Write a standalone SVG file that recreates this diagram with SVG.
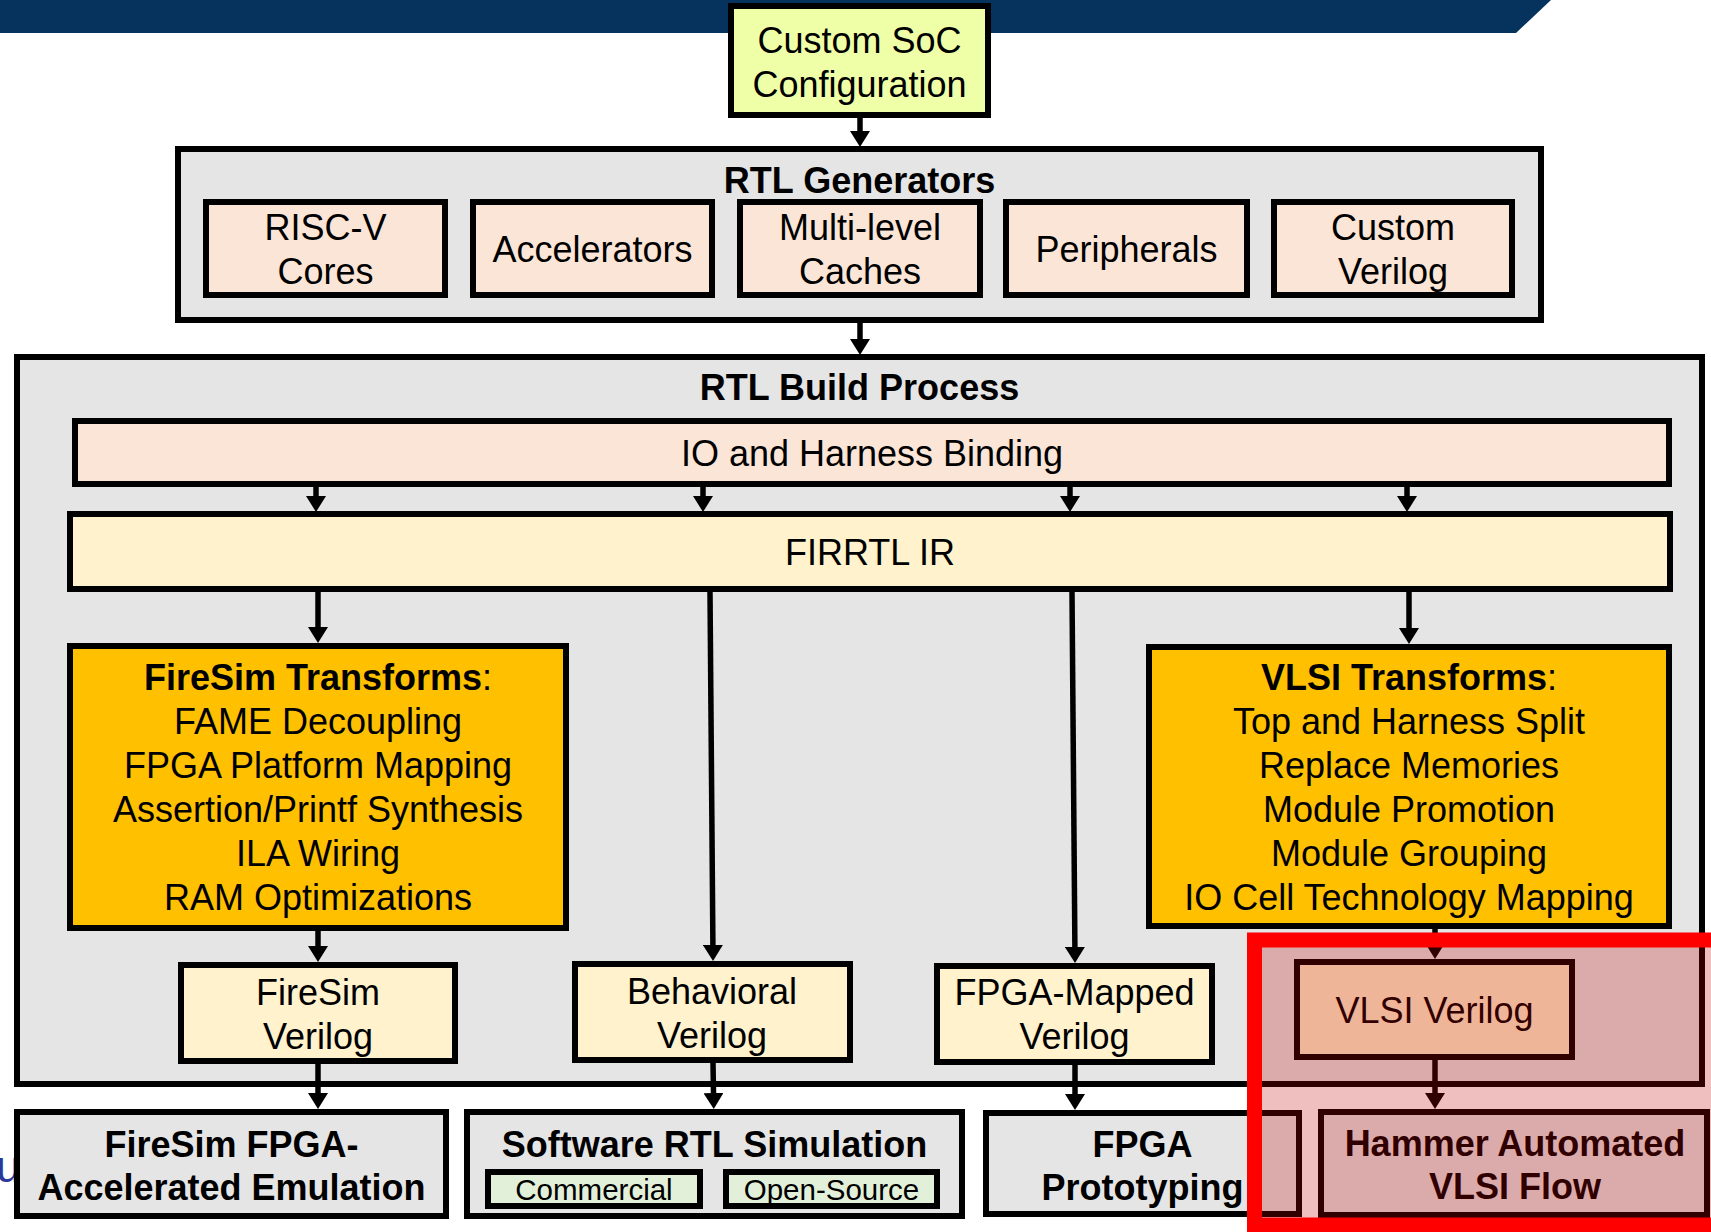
<svg xmlns="http://www.w3.org/2000/svg" width="1711" height="1232" viewBox="0 0 1711 1232">
<defs>
<style>
text{font-family:"Liberation Sans",Arial,sans-serif;font-size:36px;fill:#000;text-anchor:middle}
.b{font-weight:bold}
.s{font-size:29.5px}
.box{stroke:#000;stroke-width:6}
.grey{fill:#E5E5E5}
.peach{fill:#FBE5D6}
.cream{fill:#FFF2CC}
.gold{fill:#FFC000}
.green{fill:#E2F0D9}
.lime{fill:#EFFFA7}
.conn line{stroke:#000;stroke-width:5.5;marker-end:url(#ah)}
</style>
<marker id="ah" viewBox="0 0 16 20" refX="0" refY="10" markerWidth="16" markerHeight="20" markerUnits="userSpaceOnUse" orient="auto">
<path d="M0,0 L16,10 L0,20 z" fill="#000"/>
</marker>
</defs>
<rect width="1711" height="1232" fill="#fff"/>
<polygon points="0,0 1551,0 1516,33 0,33" fill="#06325E"/>
<text x="-4" y="1182" style="font-size:44px;fill:#2B3A99;text-anchor:start">u</text>

<g id="custom-soc">
<rect class="box lime" x="731" y="6" width="257" height="109"/>
<text x="859.5" y="53">Custom SoC</text>
<text x="859.5" y="97">Configuration</text>
</g>

<g id="rtl-generators">
<rect class="box grey" x="178" y="149" width="1363" height="171"/>
<text class="b" x="859.5" y="193">RTL Generators</text>
</g>
<g id="risc-v">
<rect class="box peach" x="206" y="202" width="239" height="93"/>
<text x="325.5" y="240">RISC-V</text>
<text x="325.5" y="284">Cores</text>
</g>
<g id="accelerators">
<rect class="box peach" x="473" y="202" width="239" height="93"/>
<text x="592.5" y="262">Accelerators</text>
</g>
<g id="caches">
<rect class="box peach" x="740" y="202" width="240" height="93"/>
<text x="860" y="240">Multi-level</text>
<text x="860" y="284">Caches</text>
</g>
<g id="peripherals">
<rect class="box peach" x="1006" y="202" width="241" height="93"/>
<text x="1126.5" y="262">Peripherals</text>
</g>
<g id="custom-verilog">
<rect class="box peach" x="1274" y="202" width="238" height="93"/>
<text x="1393" y="240">Custom</text>
<text x="1393" y="284">Verilog</text>
</g>

<g id="rtl-build">
<rect class="box grey" x="17" y="357" width="1685" height="727"/>
<text class="b" x="859.5" y="400">RTL Build Process</text>
</g>
<g id="io-harness">
<rect class="box peach" x="75" y="421" width="1594" height="63"/>
<text x="872" y="466">IO and Harness Binding</text>
</g>
<g id="firrtl">
<rect class="box cream" x="70" y="514" width="1600" height="75"/>
<text x="870" y="565">FIRRTL IR</text>
</g>
<g id="firesim-transforms">
<rect class="box gold" x="70" y="646" width="496" height="282"/>
<text x="318" y="690"><tspan class="b">FireSim Transforms</tspan>:</text>
<text x="318" y="734">FAME Decoupling</text>
<text x="318" y="778">FPGA Platform Mapping</text>
<text x="318" y="822">Assertion/Printf Synthesis</text>
<text x="318" y="866">ILA Wiring</text>
<text x="318" y="910">RAM Optimizations</text>
</g>
<g id="vlsi-transforms">
<rect class="box gold" x="1149" y="647" width="520" height="279"/>
<text x="1409" y="690"><tspan class="b">VLSI Transforms</tspan>:</text>
<text x="1409" y="734">Top and Harness Split</text>
<text x="1409" y="778">Replace Memories</text>
<text x="1409" y="822">Module Promotion</text>
<text x="1409" y="866">Module Grouping</text>
<text x="1409" y="910">IO Cell Technology Mapping</text>
</g>
<g id="firesim-verilog">
<rect class="box cream" x="181" y="965" width="274" height="96"/>
<text x="318" y="1005">FireSim</text>
<text x="318" y="1049">Verilog</text>
</g>
<g id="behavioral-verilog">
<rect class="box cream" x="575" y="964" width="275" height="96"/>
<text x="712" y="1004">Behavioral</text>
<text x="712" y="1048">Verilog</text>
</g>
<g id="fpga-mapped-verilog">
<rect class="box cream" x="937" y="966" width="275" height="96"/>
<text x="1074.5" y="1005">FPGA-Mapped</text>
<text x="1074.5" y="1049">Verilog</text>
</g>
<g id="vlsi-verilog">
<rect class="box cream" x="1297" y="962" width="275" height="95"/>
<text x="1434.5" y="1023">VLSI Verilog</text>
</g>

<g id="firesim-emulation">
<rect class="box grey" x="17" y="1112" width="429" height="104"/>
<text class="b" x="231.5" y="1157">FireSim FPGA-</text>
<text class="b" x="231.5" y="1200">Accelerated Emulation</text>
</g>
<g id="software-sim">
<rect class="box grey" x="467" y="1112" width="495" height="104"/>
<text class="b" x="714.5" y="1157">Software RTL Simulation</text>
</g>
<g id="commercial">
<rect class="box green" x="488" y="1172" width="212" height="34"/>
<text class="s" x="594" y="1200">Commercial</text>
</g>
<g id="open-source">
<rect class="box green" x="726" y="1172" width="211" height="34"/>
<text class="s" x="831.5" y="1200">Open-Source</text>
</g>
<g id="fpga-prototyping">
<rect class="box grey" x="986" y="1113" width="313" height="101"/>
<text class="b" x="1142.5" y="1157">FPGA</text>
<text class="b" x="1142.5" y="1200">Prototyping</text>
</g>
<g id="hammer">
<rect class="box grey" x="1321" y="1112" width="386" height="103"/>
<text class="b" x="1515" y="1156">Hammer Automated</text>
<text class="b" x="1515" y="1199">VLSI Flow</text>
</g>

<g id="connectors" class="conn">
<line x1="860" y1="118" x2="860" y2="131"/>
<line x1="860" y1="323" x2="860" y2="339"/>
<line x1="316" y1="487" x2="316" y2="496"/>
<line x1="703" y1="487" x2="703" y2="496"/>
<line x1="1070" y1="487" x2="1070" y2="496"/>
<line x1="1407" y1="487" x2="1407" y2="496"/>
<line x1="318" y1="592" x2="318" y2="627"/>
<line x1="710" y1="592" x2="712.9" y2="945"/>
<line x1="1072" y1="592" x2="1074.9" y2="947"/>
<line x1="1409" y1="592" x2="1409" y2="628"/>
<line x1="318" y1="931" x2="318" y2="946"/>
<line x1="1435" y1="929" x2="1435" y2="943"/>
<line x1="318" y1="1064" x2="318" y2="1093"/>
<line x1="713" y1="1063" x2="713.5" y2="1093"/>
<line x1="1075" y1="1065" x2="1075" y2="1094"/>
<line x1="1435" y1="1060" x2="1435" y2="1093"/>
</g>

<rect id="highlight" x="1254.5" y="940" width="480" height="285" fill="#C00000" fill-opacity="0.25" stroke="#FF0000" stroke-width="15"/>
</svg>
